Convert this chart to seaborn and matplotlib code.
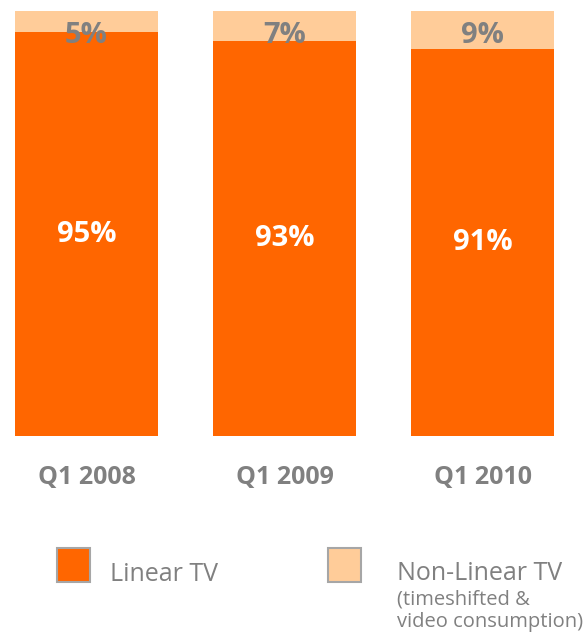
import matplotlib
matplotlib.use("Agg")
import matplotlib.pyplot as plt
import seaborn as sns
import pandas as pd
from matplotlib.patches import Rectangle

quarters = ["Q1 2008", "Q1 2009", "Q1 2010"]
linear_tv = [95, 93, 91]
non_linear_tv = [5, 7, 9]
legend_labels = ["Linear TV", "Non-Linear TV"]
legend_note = "(timeshifted &\nvideo consumption)"

ORANGE = "#FF6600"
PEACH = "#FFCC99"
GRAY = "#808080"

sns.set_theme(style="white")
plt.rcParams["font.family"] = ["Open Sans", "DejaVu Sans"]

df = pd.DataFrame({"quarter": quarters, "linear": linear_tv, "nonlinear": non_linear_tv})
df["total"] = df["linear"] + df["nonlinear"]

W, H = 585, 638
fig = plt.figure(figsize=(W / 100, H / 100), dpi=100)
ax = fig.add_axes([0, (H - 436) / H, 1, 425 / H])

bw = 143 / 198
sns.barplot(data=df, x="quarter", y="total", color=PEACH, saturation=1, width=bw,
            linewidth=0, ax=ax)
sns.barplot(data=df, x="quarter", y="linear", color=ORANGE, saturation=1, width=bw,
            linewidth=0, ax=ax)

ax.set_xlim(-86.5 / 198, (W - 86.5) / 198)
ax.set_ylim(0, 100)
ax.set_xlabel("")
ax.set_ylabel("")
ax.set_yticks([])
for s in ax.spines.values():
    s.set_visible(False)
ax.tick_params(axis="x", length=0, pad=21, labelsize=18, labelcolor=GRAY)
for lbl in ax.get_xticklabels():
    lbl.set_fontweight("bold")

for i, row in df.iterrows():
    ax.text(i, row["linear"] / 2, f"{row['linear']}%", ha="center", va="center",
            color="white", fontsize=21, fontweight="bold")
    ax.text(i, row["total"] - 5.7, f"{row['nonlinear']}%", ha="center", va="center",
            color=GRAY, fontsize=21, fontweight="bold")

# legend
for (x0, col) in [(57, ORANGE), (328, PEACH)]:
    fig.patches.append(Rectangle((x0 / W, (H - 582) / H), 33 / W, 34 / H,
                                 transform=fig.transFigure, facecolor=col,
                                 edgecolor="#A6A6A6", linewidth=1.5))
fig.text(110 / W, (H - 581) / H, legend_labels[0], color=GRAY, fontsize=18, va="baseline", ha="left")
fig.text(397 / W, (H - 580) / H, legend_labels[1], color=GRAY, fontsize=18, va="baseline", ha="left")
note_lines = legend_note.split("\n")
fig.text(397 / W, (H - 605) / H, note_lines[0], color=GRAY, fontsize=14.5, va="baseline", ha="left")
fig.text(397 / W, (H - 627) / H, note_lines[1], color=GRAY, fontsize=14.5, va="baseline", ha="left")

fig.savefig("out.png", dpi=100, facecolor="white")
